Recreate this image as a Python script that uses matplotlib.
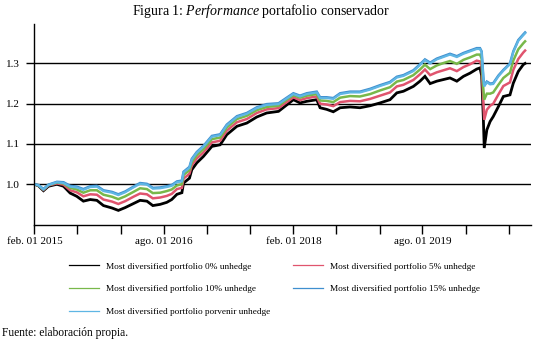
import matplotlib
matplotlib.use("Agg")
import matplotlib.pyplot as plt
from matplotlib.lines import Line2D
import pandas as pd

plt.rcParams['font.family'] = ['Liberation Serif', 'DejaVu Serif']
plt.rcParams['mathtext.fontset'] = 'custom'
plt.rcParams['mathtext.rm'] = 'Liberation Serif'
plt.rcParams['mathtext.it'] = 'Liberation Serif:italic'

# fechas
dates = [
    "2015-02-01", "2015-02-18", "2015-03-11", "2015-04-01", "2015-05-07", "2015-06-04",
    "2015-07-02", "2015-07-30", "2015-08-27", "2015-09-25", "2015-10-23", "2015-11-20",
    "2015-12-26", "2016-01-22", "2016-02-20", "2016-03-26", "2016-04-23", "2016-05-22",
    "2016-06-16", "2016-07-17", "2016-08-14", "2016-09-04", "2016-09-26", "2016-10-17",
    "2016-10-24", "2016-11-18", "2016-11-28", "2016-12-19", "2017-01-16", "2017-02-21",
    "2017-03-28", "2017-04-25", "2017-06-07", "2017-07-19", "2017-08-30", "2017-10-11",
    "2017-11-30", "2018-01-04", "2018-02-01", "2018-03-01", "2018-03-30", "2018-05-11",
    "2018-05-25", "2018-06-22", "2018-07-20", "2018-08-18", "2018-09-29", "2018-11-10",
    "2018-12-23", "2019-02-03", "2019-03-17", "2019-04-15", "2019-05-13", "2019-06-24",
    "2019-07-22", "2019-08-12", "2019-09-03", "2019-10-01", "2019-10-29", "2019-11-26",
    "2019-12-25", "2020-01-22", "2020-02-19", "2020-03-18", "2020-04-01", "2020-04-08",
    "2020-04-15", "2020-04-19", "2020-04-30", "2020-05-14", "2020-05-27", "2020-06-18",
    "2020-07-09", "2020-08-06", "2020-08-20", "2020-09-10", "2020-10-01", "2020-10-09",
]

unhedge_0 = [
    1.000, 0.996, 0.984, 0.995, 1.000, 0.995, 0.978, 0.970, 0.958, 0.962, 0.960, 0.947,
    0.941, 0.935, 0.942, 0.952, 0.960, 0.958, 0.947, 0.950, 0.955, 0.962, 0.975, 0.979,
    1.003, 1.015, 1.036, 1.053, 1.069, 1.094, 1.098, 1.123, 1.144, 1.152, 1.167, 1.177,
    1.181, 1.197, 1.210, 1.202, 1.206, 1.210, 1.190, 1.186, 1.180, 1.190, 1.192, 1.190,
    1.195, 1.202, 1.210, 1.227, 1.231, 1.243, 1.256, 1.268, 1.250, 1.256, 1.260, 1.264,
    1.256, 1.268, 1.276, 1.286, 1.289, 1.270, 1.168, 1.090, 1.135, 1.156, 1.168, 1.193,
    1.218, 1.222, 1.251, 1.280, 1.297, 1.300,
]
unhedge_5 = [
    1.000, 0.997, 0.986, 0.997, 1.002, 0.999, 0.985, 0.980, 0.970, 0.975, 0.974, 0.962,
    0.957, 0.951, 0.958, 0.969, 0.977, 0.975, 0.965, 0.967, 0.971, 0.976, 0.988, 0.991,
    1.014, 1.026, 1.047, 1.064, 1.079, 1.104, 1.108, 1.133, 1.154, 1.162, 1.177, 1.186,
    1.189, 1.204, 1.216, 1.209, 1.214, 1.218, 1.200, 1.198, 1.194, 1.204, 1.207, 1.206,
    1.212, 1.220, 1.228, 1.243, 1.247, 1.259, 1.273, 1.285, 1.271, 1.278, 1.283, 1.288,
    1.281, 1.291, 1.298, 1.307, 1.305, 1.294, 1.208, 1.160, 1.185, 1.195, 1.200, 1.223,
    1.244, 1.253, 1.284, 1.311, 1.327, 1.332,
]
unhedge_10 = [
    1.000, 0.997, 0.987, 0.998, 1.004, 1.002, 0.991, 0.987, 0.979, 0.985, 0.985, 0.974,
    0.969, 0.963, 0.970, 0.981, 0.990, 0.988, 0.978, 0.979, 0.983, 0.987, 0.997, 1.000,
    1.023, 1.035, 1.055, 1.072, 1.087, 1.112, 1.116, 1.141, 1.162, 1.170, 1.184, 1.192,
    1.195, 1.210, 1.221, 1.215, 1.220, 1.224, 1.208, 1.207, 1.204, 1.215, 1.219, 1.218,
    1.224, 1.233, 1.241, 1.255, 1.259, 1.271, 1.285, 1.297, 1.286, 1.295, 1.301, 1.306,
    1.299, 1.309, 1.315, 1.322, 1.322, 1.312, 1.238, 1.210, 1.225, 1.225, 1.228, 1.247,
    1.264, 1.277, 1.307, 1.335, 1.350, 1.355,
]
unhedge_15 = [
    1.000, 0.998, 0.988, 0.999, 1.006, 1.005, 0.996, 0.994, 0.988, 0.995, 0.996, 0.985,
    0.981, 0.975, 0.982, 0.994, 1.003, 1.001, 0.991, 0.992, 0.995, 0.998, 1.007, 1.009,
    1.031, 1.043, 1.063, 1.080, 1.095, 1.120, 1.124, 1.148, 1.169, 1.177, 1.191, 1.199,
    1.201, 1.215, 1.226, 1.220, 1.226, 1.230, 1.216, 1.216, 1.214, 1.226, 1.230, 1.230,
    1.237, 1.246, 1.254, 1.267, 1.271, 1.283, 1.298, 1.310, 1.302, 1.312, 1.318, 1.324,
    1.318, 1.326, 1.332, 1.338, 1.338, 1.330, 1.268, 1.245, 1.255, 1.250, 1.251, 1.270,
    1.284, 1.300, 1.330, 1.358, 1.372, 1.377,
]
unhedge_porvenir = [
    1.000, 0.997, 0.987, 0.998, 1.005, 1.003, 0.994, 0.992, 0.986, 0.993, 0.994, 0.983,
    0.979, 0.973, 0.980, 0.992, 1.001, 0.999, 0.989, 0.990, 0.993, 0.996, 1.005, 1.007,
    1.029, 1.041, 1.061, 1.078, 1.093, 1.118, 1.122, 1.146, 1.167, 1.175, 1.189, 1.197,
    1.199, 1.213, 1.224, 1.218, 1.224, 1.228, 1.214, 1.214, 1.212, 1.224, 1.228, 1.228,
    1.235, 1.244, 1.252, 1.265, 1.269, 1.281, 1.296, 1.308, 1.300, 1.310, 1.316, 1.322,
    1.316, 1.324, 1.330, 1.336, 1.336, 1.328, 1.266, 1.243, 1.253, 1.248, 1.249, 1.268,
    1.282, 1.298, 1.328, 1.356, 1.370, 1.375,
]

labels = [
    "Most diversified portfolio 0% unhedge",
    "Most diversified portfolio 5% unhedge",
    "Most diversified portfolio 10% unhedge",
    "Most diversified portfolio 15% unhedge",
    "Most diversified portfolio porvenir unhedge",
]

tick_dates = ["2015-02-01", "2015-08-01", "2016-02-01", "2016-08-01", "2017-02-01",
              "2017-08-01", "2018-02-01", "2018-08-01", "2019-02-01", "2019-08-01",
              "2020-02-01", "2020-08-01"]
tick_labels = ["feb. 01 2015", "", "", "ago. 01 2016", "", "", "feb. 01 2018",
               "", "", "ago. 01 2019", "", ""]
y_ticks = [1.0, 1.1, 1.2, 1.3]

x = pd.to_datetime(dates)

fig = plt.figure(figsize=(5.38, 3.4), dpi=100)
ax = fig.add_axes([0.0641, 0.3397, 0.9229, 0.5897])

series = [unhedge_0, unhedge_5, unhedge_10, unhedge_15, unhedge_porvenir]
colors = ['black', '#e0546e', '#78b84a', '#3f8fcf', '#5fb6e4']
widths = [2.0, 1.8, 1.8, 1.8, 1.6]
for vals, c, lw in zip(series, colors, widths):
    ax.plot(x, vals, color=c, lw=lw, solid_joinstyle='miter')

ax.set_xlim(pd.Timestamp("2015-02-01"), pd.Timestamp("2020-11-03"))
ax.set_ylim(0.9, 1.398)

ax.set_xticks(pd.to_datetime(tick_dates))
ax.set_xticklabels(tick_labels, fontsize=8)
ax.set_yticks(y_ticks)
ax.set_yticklabels([f"{v:.1f}" for v in y_ticks], fontsize=8)
ax.tick_params(axis='x', direction='out', length=6.2, width=1, pad=2.5, color='black')
ax.tick_params(axis='y', direction='out', length=5.6, width=1, pad=4.8, color='black')

ax.yaxis.grid(True, color='black', lw=1)
ax.set_axisbelow(True)
for s in ['top', 'right']:
    ax.spines[s].set_visible(False)
ax.spines['left'].set_linewidth(1)
ax.spines['bottom'].set_linewidth(1)

fig.text(0.485, 1 - 11 / 340, r"Figura 1: $\mathit{Performance}$ portafolio conservador",
         ha='center', va='center', fontsize=10)

# leyenda (orden por columnas para reproducir filas)
handles = [Line2D([0], [0], color=c, lw=0.9) for c in colors]
order = [0, 2, 4, 1, 3]
fig.legend([handles[i] for i in order], [labels[i] for i in order],
           ncol=2, loc='upper left', bbox_to_anchor=(0.128, 0.229),
           frameon=False, fontsize=6.7, handlelength=3.2, handletextpad=0.75,
           columnspacing=2.5, labelspacing=1.52, borderpad=0, borderaxespad=0)

fig.text(0.004, 1 - 333 / 340, "Fuente: elaboración propia.", ha='left', va='center', fontsize=8.3)

fig.savefig("out.png", dpi=100)
